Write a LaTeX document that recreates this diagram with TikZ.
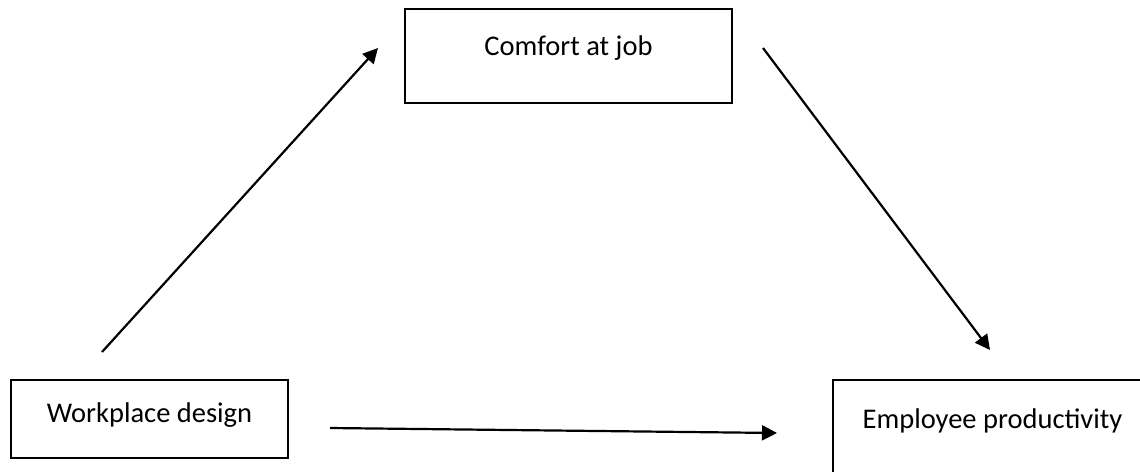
\documentclass[tikz,border=0pt]{standalone}
\usepackage{fontspec}
\setmainfont{Carlito}
\usetikzlibrary{arrows.meta}
\begin{document}
\begin{tikzpicture}[x=1pt,y=-1pt,
  box/.style={draw=black,line width=2.6pt,rectangle,inner sep=0pt,
    font=\fontsize{28.5}{34}\selectfont,align=center},
  link/.style={line width=2.2pt,-{Triangle[length=15pt,width=15pt]}}]
\useasboundingbox (0,0) rectangle (1140,471);
\clip (0,0) rectangle (1140,471);
\fill[white] (0,0) rectangle (1140,471);

% variable boxes (text sits in the upper part of each box)
\node[box,minimum width=327pt,text height=46pt,text depth=48pt]
  (comfort) at (568.5,56) {Comfort at job};
\node[box,minimum width=277pt,text height=42pt,text depth=36pt]
  (design) at (149.5,419) {Workplace design};
\node[box,minimum width=319pt,text height=48pt,text depth=62pt]
  (prod) at (992.5,435) {Employee productivity};

% free ends of the paths between the boxes
\coordinate (d1) at (102,352);
\coordinate (c1) at (378,48);
\coordinate (c2) at (763,48);
\coordinate (p1) at (990,350);
\coordinate (d2) at (330,428);
\coordinate (p2) at (777,433);

\draw[link] (d1) -- (c1);
\draw[link] (c2) -- (p1);
\draw[link] (d2) -- (p2);
\end{tikzpicture}
\end{document}
